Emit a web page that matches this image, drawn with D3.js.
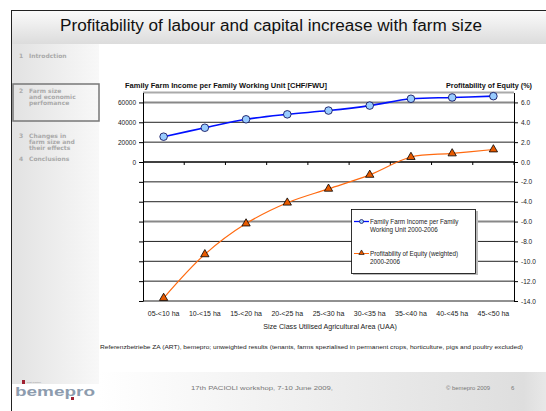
<!DOCTYPE html>
<html><head><meta charset="utf-8">
<script src="https://cdn.jsdelivr.net/npm/d3@7"></script>
<style>
body{margin:0;padding:0;background:#fff;}
svg{display:block;font-family:"Liberation Sans",Arial,sans-serif;}
</style></head>
<body>
<svg id="c" width="546" height="411"></svg>
<script>
const categories = ["05-<10 ha","10-<15 ha","15-<20 ha","20-<25 ha","25-<30 ha","30-<35 ha","35-<40 ha","40-<45 ha","45-<50 ha"];
const incomeValues = [25500, 34500, 43000, 48000, 51800, 56800, 63700, 65000, 66300];
const equityValues = [-13.7, -9.3, -6.2, -4.1, -2.7, -1.3, 0.5, 0.86, 1.26];
const leftTicks = [-140000,-120000,-100000,-80000,-60000,-40000,-20000,0,20000,40000,60000];
const rightTicks = [-14,-12,-10,-8,-6,-4,-2,0,2,4,6];
const menuItems = [["1","Introdction"],["2","Farm size","and economic","perfomance"],["3","Changes in","farm size and","their effects"],["4","Conclusions"]];

(function(){
const svg = d3.select("#c");
const defs = svg.append("defs");
const g1 = defs.append("linearGradient").attr("id","tg").attr("x1",0).attr("x2",0).attr("y1",0).attr("y2",1);
g1.append("stop").attr("offset",0).attr("stop-color","#fbfbfb");
g1.append("stop").attr("offset",1).attr("stop-color","#dcdcdc");
const g2 = defs.append("linearGradient").attr("id","sg").attr("x1",0).attr("x2",1).attr("y1",0).attr("y2",0);
g2.append("stop").attr("offset",0).attr("stop-color","#e2e2e2");
g2.append("stop").attr("offset",1).attr("stop-color","#f8f8f8");
const g3 = defs.append("linearGradient").attr("id","fg").attr("x1",0).attr("x2",1).attr("y1",0).attr("y2",0);
g3.append("stop").attr("offset",0).attr("stop-color","#ffffff");
g3.append("stop").attr("offset",0.95).attr("stop-color","#dedede");
g3.append("stop").attr("offset",1).attr("stop-color","#e8e8e8");

svg.append("rect").attr("x",11).attr("y",10).attr("width",535).attr("height",34).attr("fill","url(#tg)");
svg.append("rect").attr("x",12).attr("y",44).attr("width",87).attr("height",340).attr("fill","url(#sg)");
svg.append("rect").attr("x",99).attr("y",372).attr("width",447).attr("height",39).attr("fill","url(#fg)");
svg.append("rect").attr("x",12).attr("y",384).attr("width",87).attr("height",27).attr("fill","#fff");
svg.append("line").attr("x1",11).attr("x2",546).attr("y1",10.5).attr("y2",10.5).attr("stroke","#222").attr("stroke-width",1);
svg.append("line").attr("x1",11.5).attr("x2",11.5).attr("y1",10).attr("y2",411).attr("stroke","#222").attr("stroke-width",1);

svg.append("text").attr("x",60).attr("y",31).attr("font-size",15.8).attr("fill","#111")
  .attr("textLength",422).attr("lengthAdjust","spacingAndGlyphs")
  .text("Profitability of labour and capital increase with farm size");

svg.append("rect").attr("x",13).attr("y",84).attr("width",86).attr("height",37).attr("fill","none").attr("stroke","#777").attr("stroke-width",1.5);
const menuY = [58, 93, 138, 161];
menuItems.forEach((it,i)=>{
  svg.append("text").attr("x",19).attr("y",menuY[i]).attr("font-size",6).attr("font-weight","bold")
    .attr("font-family","DejaVu Sans, sans-serif").attr("fill","#aaa").text(it[0]);
  it.slice(1).forEach((t,j)=>{
    svg.append("text").attr("x",29).attr("y",menuY[i]+j*6).attr("font-size",6).attr("font-weight","bold")
      .attr("font-family","DejaVu Sans, sans-serif").attr("fill","#aaa").text(t);
  });
});

svg.append("text").attr("x",191).attr("y",390).attr("font-size",6).attr("fill","#777")
  .attr("textLength",142).attr("lengthAdjust","spacingAndGlyphs").text("17th PACIOLI workshop, 7-10 June 2009,");
svg.append("text").attr("x",446).attr("y",390).attr("font-size",6).attr("fill","#777")
  .attr("textLength",44).attr("lengthAdjust","spacingAndGlyphs").text("\u00A9 bemepro 2009");
svg.append("text").attr("x",511).attr("y",390).attr("font-size",6).attr("fill","#777").text("6");
svg.append("rect").attr("x",22).attr("y",380).attr("width",3).attr("height",4).attr("fill","#a02030");
svg.append("rect").attr("x",71).attr("y",397).attr("width",3).attr("height",3).attr("fill","#a02030");
svg.append("text").attr("x",27).attr("y",383).attr("font-size",2.5).attr("fill","#999").text("best practice");
svg.append("text").attr("x",15).attr("y",396).attr("font-size",12).attr("font-weight","bold").attr("fill","#8d9cae")
  .attr("textLength",80).attr("lengthAdjust","spacingAndGlyphs").text("bemepro");

const pL = 143, pR = 514, pT = 92.5, pB = 301;
const x = d3.scaleBand().domain(categories).range([pL,pR]);
const yL = d3.scaleLinear().domain([-140000,70000]).range([pB,pT]);
const yR = d3.scaleLinear().domain([-14,7]).range([pB,pT]);

const grid = svg.append("g");
leftTicks.forEach(v=>{
  if (v===0) return;
  const heavy = (v===60000||v===-60000);
  grid.append("line").attr("x1",pL).attr("x2",pR).attr("y1",yL(v)).attr("y2",yL(v))
    .attr("stroke",heavy?"#888":"#222").attr("stroke-width",heavy?2:1);
});
grid.append("line").attr("x1",pL).attr("x2",pR).attr("y1",pT).attr("y2",pT).attr("stroke","#aaa").attr("stroke-width",2);

const axL = svg.append("g").attr("transform",`translate(${pL},0)`)
  .call(d3.axisLeft(yL).tickValues(leftTicks).tickSize(4).tickSizeOuter(0).tickFormat(d=>d>=0?String(d):""));
axL.select(".domain").attr("stroke","#000");
axL.selectAll("text").attr("font-size",6.5).attr("fill","#222").attr("font-family","Liberation Sans, Arial, sans-serif");
const axR = svg.append("g").attr("transform",`translate(${pR},0)`)
  .call(d3.axisRight(yR).tickValues(rightTicks).tickSize(4).tickSizeOuter(0).tickFormat(d=>d3.format(".1f")(d).replace("\u2212","-")));
axR.select(".domain").attr("stroke","#000");
axR.selectAll("text").attr("font-size",6.5).attr("fill","#222").attr("font-family","Liberation Sans, Arial, sans-serif");

svg.append("line").attr("x1",pL).attr("x2",pR).attr("y1",yL(0)).attr("y2",yL(0)).attr("stroke","#000").attr("stroke-width",1.5);
categories.forEach(c=>{
  const bx = x(c)+x.bandwidth();
  svg.append("line").attr("x1",bx).attr("x2",bx).attr("y1",yL(0)).attr("y2",yL(0)+3).attr("stroke","#000");
});
const axB = svg.append("g").attr("transform",`translate(0,${pB+7})`)
  .call(d3.axisBottom(x).tickSize(0));
axB.select(".domain").remove();
axB.selectAll("text").attr("font-size",7).attr("fill","#222").attr("font-family","Liberation Sans, Arial, sans-serif");

svg.append("text").attr("x",125).attr("y",88).attr("font-size",6.8).attr("font-weight","bold").attr("fill","#111")
  .attr("textLength",202).attr("lengthAdjust","spacingAndGlyphs")
  .text("Family Farm Income  per Family Working Unit  [CHF/FWU]");
svg.append("text").attr("x",446).attr("y",88).attr("font-size",6.8).attr("font-weight","bold").attr("fill","#111")
  .attr("textLength",86).attr("lengthAdjust","spacingAndGlyphs")
  .text("Profitability of Equity (%)");
svg.append("text").attr("x",330).attr("y",329).attr("text-anchor","middle").attr("font-size",7.1).attr("fill","#222")
  .text("Size Class Utilised Agricultural Area (UAA)");
svg.append("text").attr("x",100).attr("y",349).attr("font-size",5.8).attr("fill","#222")
  .attr("textLength",423).attr("lengthAdjust","spacingAndGlyphs")
  .text("Referenzbetriebe ZA (ART), bemepro;  unweighted results (tenants, farms spezialised in permanent crops, horticulture, pigs and poultry excluded)");

const cx = c => x(c)+x.bandwidth()/2;
const lineR = d3.line().x((d,i)=>cx(categories[i])).y(d=>yR(d)).curve(d3.curveCatmullRom.alpha(0.5));
svg.append("path").datum(equityValues).attr("d",lineR).attr("fill","none").attr("stroke","#ff6a10").attr("stroke-width",1.2);
const tri = d3.symbol().type(d3.symbolTriangle).size(30);
svg.selectAll(".tri").data(equityValues).enter().append("path")
  .attr("transform",(d,i)=>`translate(${cx(categories[i])},${yR(d)})`)
  .attr("d",tri).attr("fill","#e85a00").attr("stroke","#000").attr("stroke-width",0.8);

const lineL = d3.line().x((d,i)=>cx(categories[i])).y(d=>yL(d)).curve(d3.curveCatmullRom.alpha(0.5));
svg.append("path").datum(incomeValues).attr("d",lineL).attr("fill","none").attr("stroke","#0010ff").attr("stroke-width",1.6);
svg.selectAll(".cir").data(incomeValues).enter().append("circle")
  .attr("cx",(d,i)=>cx(categories[i])).attr("cy",d=>yL(d)).attr("r",3.8)
  .attr("fill","#99ccff").attr("stroke","#000050").attr("stroke-width",0.8);

const lg = svg.append("g");
lg.append("rect").attr("x",353).attr("y",211).attr("width",125).attr("height",64).attr("fill","#bbb");
lg.append("rect").attr("x",351.5).attr("y",209.5).attr("width",124).attr("height",64).attr("fill","#fff").attr("stroke","#000").attr("stroke-width",0.8);
lg.append("line").attr("x1",354).attr("x2",369).attr("y1",221.5).attr("y2",221.5).attr("stroke","#0010ff").attr("stroke-width",1.3);
lg.append("circle").attr("cx",361.5).attr("cy",221.5).attr("r",2).attr("fill","#99ccff").attr("stroke","#000050").attr("stroke-width",0.7);
lg.append("text").attr("x",370).attr("y",224).attr("font-size",6.3).attr("fill","#222").text("Family Farm Income per Family");
lg.append("text").attr("x",370).attr("y",231.5).attr("font-size",6.3).attr("fill","#222").text("Working Unit 2000-2006");
lg.append("line").attr("x1",354).attr("x2",369).attr("y1",253.5).attr("y2",253.5).attr("stroke","#ff6a10").attr("stroke-width",1);
lg.append("path").attr("transform","translate(361.5,253)").attr("d",d3.symbol().type(d3.symbolTriangle).size(12)).attr("fill","#e85a00").attr("stroke","#000").attr("stroke-width",0.6);
lg.append("text").attr("x",370).attr("y",256).attr("font-size",6.3).attr("fill","#222").text("Profitability of Equity (weighted)");
lg.append("text").attr("x",370).attr("y",263.5).attr("font-size",6.3).attr("fill","#222").text("2000-2006");
})();
</script>
</body></html>
